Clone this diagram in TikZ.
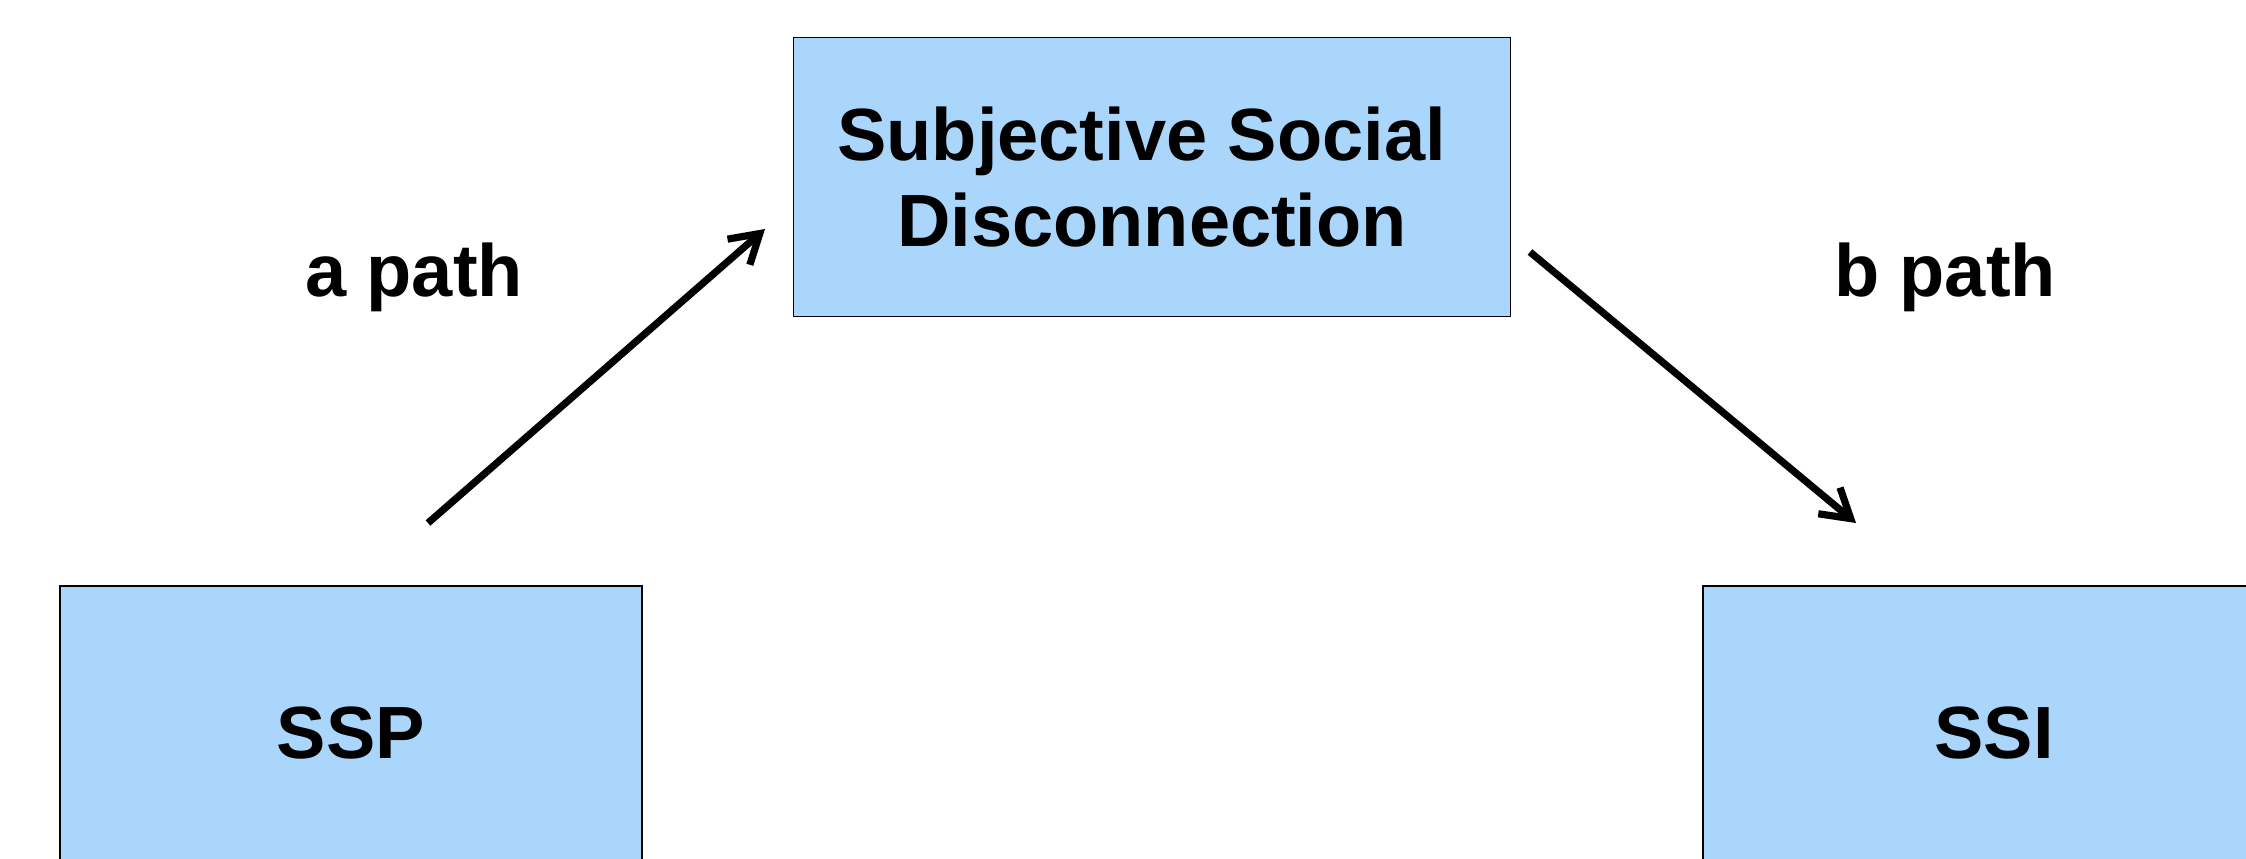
\documentclass[tikz,border=0pt]{standalone}
\usepackage{fontspec}
\setmainfont{Liberation Sans}
\usetikzlibrary{arrows.meta}
\definecolor{boxblue}{RGB}{170,214,252}

\begin{document}
\begin{tikzpicture}[x=0.25pt,y=-0.25pt,>={Straight Barb[length=7pt,width=8.5pt]},
  box/.style={draw=black,line width=0.4pt,fill=boxblue,inner sep=0pt,
    font=\fontsize{18.5}{21.5}\selectfont\bfseries},
  lbl/.style={font=\fontsize{18.5}{21.5}\selectfont\bfseries,anchor=base}]
  \useasboundingbox (0,0) rectangle (2246,858);

  \node[box, minimum width=179.25pt, minimum height=69.75pt, align=center] (sub) at (1152,177)
        {Subjective Social\hspace*{.28em}\\Disconnection};
  \node[box, minimum width=145.5pt, minimum height=73.5pt] (ssp) at (351,733) {SSP};
  \node[box, minimum width=145.5pt, minimum height=73.5pt] (ssi) at (1994,733) {SSI};

  \node[lbl] (apath) at (414,296) {a path};
  \node[lbl] (bpath) at (1945,296) {b path};

  % free ends of the two paths
  \coordinate (a0) at (428,523);
  \coordinate (a1) at (765,229);
  \coordinate (b0) at (1530,252);
  \coordinate (b1) at (1856,523);

  \draw[->, line width=1.8pt] (a0) -- (a1);
  \draw[->, line width=1.8pt] (b0) -- (b1);
\end{tikzpicture}
\end{document}
